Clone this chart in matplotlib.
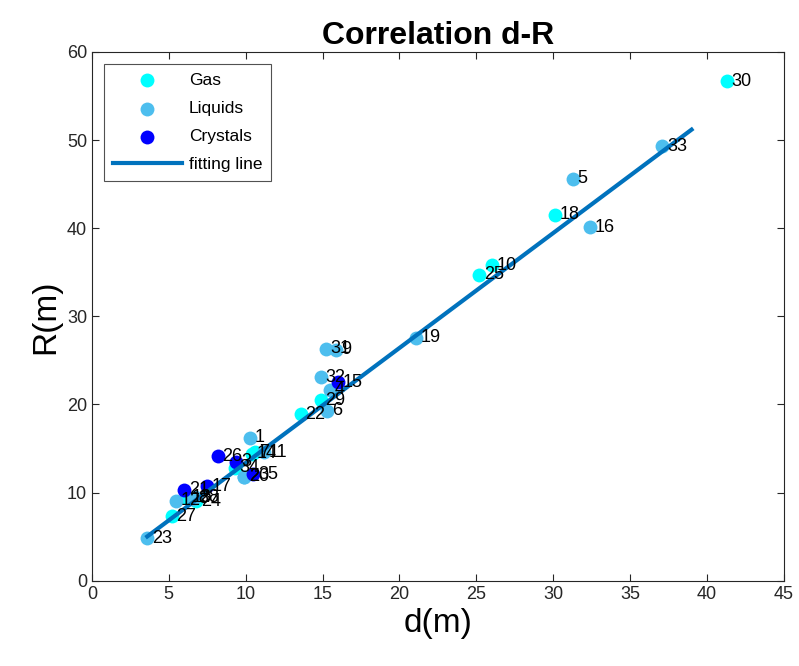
import matplotlib.pyplot as plt

plt.rcParams['font.family'] = ['Liberation Sans', 'DejaVu Sans']

# point data: d (m), R (m), phase, label
d_vals = [10.3, 9.9, 9.4, 15.5, 31.3, 15.3, 10.6, 6.6, 15.9, 26.0,
          11.2, 5.5, 6.2, 10.4, 16.0, 32.4, 7.5, 30.1, 21.1, 9.9,
          6.0, 13.6, 3.6, 6.8, 25.2, 8.2, 5.2, 6.7, 14.9, 41.3,
          15.2, 14.9, 37.1, 9.3, 10.5]
R_vals = [16.2, 11.8, 13.5, 21.7, 45.6, 19.3, 14.6, 9.3, 26.2, 35.8,
          14.6, 9.1, 9.4, 14.4, 22.5, 40.1, 10.7, 41.5, 27.6, 11.8,
          10.3, 18.9, 4.8, 9.0, 34.7, 14.1, 7.3, 9.5, 20.5, 56.7,
          26.3, 23.1, 49.3, 12.8, 12.1]
phase = ['L', 'L', 'C', 'L', 'L', 'L', 'G', 'L', 'L', 'G',
         'L', 'L', 'G', 'G', 'C', 'L', 'C', 'G', 'L', 'L',
         'C', 'G', 'L', 'G', 'G', 'C', 'G', 'L', 'G', 'G',
         'L', 'L', 'L', 'G', 'C']
labels = [str(i + 1) for i in range(len(d_vals))]

fit_slope = 1.304
fit_intercept = 0.33
fit_d = [3.6, 39.0]

colors = {'G': '#00FFFF', 'L': '#4DBEEE', 'C': '#0000FF'}
names = {'G': 'Gas', 'L': 'Liquids', 'C': 'Crystals'}

fig = plt.figure(figsize=(7.99, 6.66), dpi=100)
ax = fig.add_axes([0.115, 0.128, 0.866, 0.794])

for p in ['G', 'L', 'C']:
    xs = [d for d, ph in zip(d_vals, phase) if ph == p]
    ys = [r for r, ph in zip(R_vals, phase) if ph == p]
    ax.scatter(xs, ys, s=100, color=colors[p], label=names[p], zorder=3, linewidths=0)

fit_R = [fit_slope * x + fit_intercept for x in fit_d]
ax.plot(fit_d, fit_R, color='#0072BD', lw=3, label='fitting line', zorder=4)

for d, r, lab in zip(d_vals, R_vals, labels):
    ax.text(d + 0.3, r, lab, fontsize=13, va='center', ha='left', zorder=5)

ax.set_xlim(0, 45)
ax.set_ylim(0, 60)
ax.set_xticks(range(0, 46, 5))
ax.set_yticks(range(0, 61, 10))
ax.tick_params(direction='in', top=True, right=True, labelsize=13,
               colors='#262626', length=5)
for s in ax.spines.values():
    s.set_color('#262626')
    s.set_linewidth(0.8)

ax.set_xlabel('d(m)', fontsize=24)
ax.set_ylabel('R(m)', fontsize=24)
ax.set_title('Correlation d-R', fontsize=23, fontweight='bold')

leg = ax.legend(loc='upper left', fontsize=12.5, fancybox=False, edgecolor='#262626',
                borderaxespad=0.7, handlelength=4.0, scatterpoints=1,
                labelspacing=0.75, handletextpad=0.4, borderpad=0.5)
leg.get_frame().set_linewidth(0.8)

fig.savefig('out.png', dpi=100)
